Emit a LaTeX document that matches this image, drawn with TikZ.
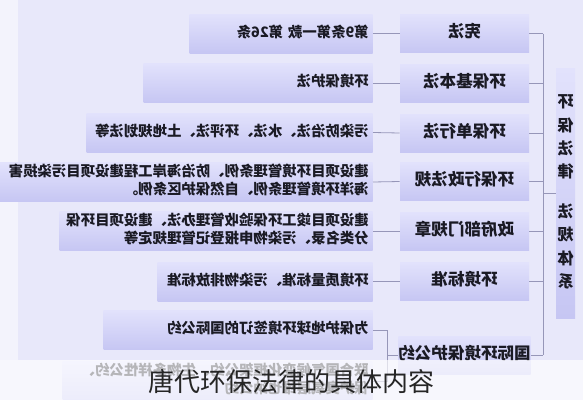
\documentclass[tikz,border=0pt]{standalone}
\usepackage{fontspec}
\newfontfamily\cjk{Noto Sans CJK SC}
\usetikzlibrary{positioning}
\definecolor{paper}{RGB}{232,232,250}
\definecolor{paperlight}{RGB}{243,243,252}
\definecolor{boxtop}{RGB}{226,226,252}
\definecolor{boxbot}{RGB}{198,198,243}
\definecolor{wire}{RGB}{150,150,184}
\definecolor{ink}{RGB}{26,26,36}
% mirrored text, as the picture prints it
\newcommand{\mir}[1]{\reflectbox{\begin{tabular}{@{}l@{}}#1\end{tabular}}}
\newcommand{\vmir}[1]{\reflectbox{\begin{tabular}{@{}c@{}}#1\end{tabular}}}
\tikzset{
    cat/.style={top color=boxtop, bottom color=boxbot, minimum width=96.75pt, minimum height=28.5pt,
        inner sep=0pt, text=ink, font=\cjk\bfseries\fontsize{12.4pt}{15pt}\selectfont},
    det/.style={top color=boxtop, bottom color=boxbot, minimum height=29.25pt, anchor=east,
        inner xsep=3pt, inner ysep=0pt, align=right, text=ink,
        font=\cjk\bfseries\fontsize{10.8pt}{13.5pt}\selectfont},
    root/.style={top color=boxtop, bottom color=boxbot, minimum width=14.25pt, minimum height=187.5pt,
        inner sep=0pt, text=ink, font=\cjk\bfseries\fontsize{12pt}{17.6pt}\selectfont},
    wire/.style={draw=wire, line width=0.6pt}
}

\begin{document}
\begin{tikzpicture}[x=0.75pt,y=-0.75pt]
    \useasboundingbox (0,0) rectangle (583,400);
    \fill [paper] (0,0) rectangle (583,400);
    \fill [paperlight] (0,0) rectangle (18,360);

    % root box
    \node [root] (R) at (565.5,193) {\vmir{环\\保\\法\\律\\[12pt]法\\规\\体\\系}};

    % categories
    \node [cat] (C1) at (464.5,33.5) {\mir{宪法}};
    \node [cat] (C2) at (464.5,83) {\mir{环保基本法}};
    \node [cat] (C3) at (464.5,133) {\mir{环保单行法}};
    \node [cat] (C4) at (464.5,181.5) {\mir{环保行政法规}};
    \node [cat] (C5) at (464.5,231) {\mir{政府部门规章}};
    \node [cat] (C6) at (464.5,281.5) {\mir{环境标准}};
    \node [cat] (C7) at (464.5,355) {\mir{国际环境保护公约}};

    % details
    \node [det, text width=131.25pt] (D1) at (373,33.5) {\mir{第9条第一款 第26条}};
    \node [det, text width=165.75pt] (D2) at (373,83) {\mir{环境保护法}};
    \node [det, text width=208.5pt] (D3) at (373,132.5) {\mir{污染防治法、水法、环评法、土地规划法等}};
    \node [det, text width=277.5pt] (D4) at (373,182) {\mir{建设项目环境管理条例、防治海岸工程建设项目污染损害\\海洋环境管理条例、自然保护区条例。}};
    \node [det, text width=228.75pt] (D5) at (373,231) {\mir{建设项目竣工环保验收管理办法、建设项目环保\\分类名录、污染物申报登记管理规定等}};
    \node [det, text width=155.25pt] (D6) at (373,281.5) {\mir{环境质量标准、污染物排放标准}};
    \node [det, text width=195.75pt] (D7) at (373,330) {\mir{为保护地球环境签订的国际公约}};
    \node [det, text width=226.5pt] (D8) at (373,381) {\mir{联合国气候变化框架公约、生物多样性公约、\\保护臭氧层维也纳公约}};

    % trunk
    \coordinate (T) at (543,0);
    \draw [wire] (C1.east -| T) -- (C7.east -| T);
    \draw [wire] (R.west) -- (R.west -| T);
    \foreach \c in {C1,C2,C3,C4,C5,C6,C7}
        \draw [wire] (\c.east) -- (\c.east -| T);

    % branches
    \foreach \d/\c in {D1/C1,D2/C2,D3/C3,D4/C4,D5/C5,D6/C6}
        \draw [wire] (\d.east) -- (\c.west);
    \coordinate (F) at (387,0);
    \draw [wire] (D7.east) -- (D7.east -| F) -- (D8.east -| F) -- (D8.east);
    \draw [wire] (C7.west -| F) -- (C7.west);

    % caption band
    \fill [white, opacity=0.68] (0,360) rectangle (583,400);
    \node [text=black!85, font=\cjk\fontsize{19.5pt}{22pt}\selectfont] (cap) at (291.5,381) {唐代环保法律的具体内容};
\end{tikzpicture}
\end{document}
